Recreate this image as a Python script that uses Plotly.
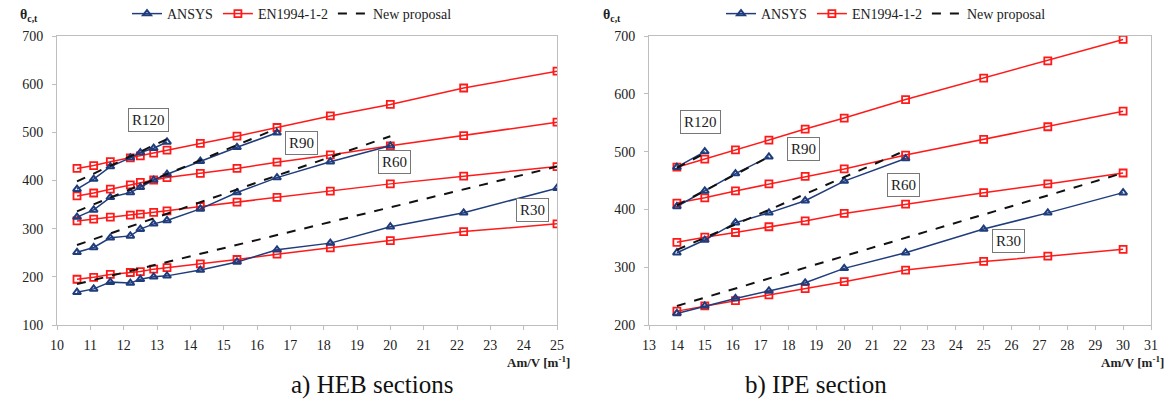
import plotly.graph_objects as go

# ---------------- data ----------------
heb_x = [10.6, 11.1, 11.6, 12.2, 12.5, 12.9, 13.3, 14.3, 15.4, 16.6, 18.2, 20.0, 22.2, 25.0]
heb_en = {
    "R120": [425, 431, 439, 447, 451, 457, 463, 477, 492, 510, 534, 558, 592, 627],
    "R90": [368, 374, 382, 391, 396, 401, 406, 415, 425, 438, 453, 472, 493, 521],
    "R60": [316, 320, 324, 328, 330, 334, 337, 346, 355, 365, 378, 393, 409, 429],
    "R30": [195, 199, 205, 209, 211, 216, 219, 227, 236, 247, 260, 275, 294, 310],
}
heb_ansys = {
    "R120": [382, 403, 429, 447, 458, 467, 480],
    "R90": [324, 339, 365, 375, 386, 401, 413, 440, 469, 499],
    "R60": [251, 261, 281, 285, 299, 310, 317, 341, 375, 406, 439, 472],
    "R30": [168, 175, 189, 187, 195, 200, 202, 214, 231, 256, 270, 304, 333, 384],
}
heb_new_x = {"R120": [10.6, 13.3], "R90": [10.6, 16.6], "R60": [10.6, 20.0], "R30": [10.6, 25.0]}
heb_new_y = {"R120": [398, 486], "R90": [336, 508], "R60": [266, 492], "R30": [185, 429]}
heb_label_pos = {"R120": (12.73, 526), "R90": (17.32, 478), "R60": (20.13, 439), "R30": (24.25, 339)}

ipe_x = [14.0, 15.0, 16.1, 17.3, 18.6, 20.0, 22.2, 25.0, 27.3, 30.0]
ipe_en = {
    "R120": [473, 487, 503, 520, 539, 558, 590, 627, 657, 694],
    "R90": [411, 420, 432, 444, 457, 470, 494, 521, 543, 570],
    "R60": [343, 352, 360, 370, 380, 393, 409, 429, 444, 463],
    "R30": [224, 233, 242, 252, 263, 275, 295, 310, 319, 331],
}
ipe_ansys = {
    "R120": [473, 500],
    "R90": [405, 432, 462, 491],
    "R60": [325, 347, 377, 394, 415, 449, 488],
    "R30": [220, 233, 246, 259, 273, 298, 325, 366, 394, 429],
}
ipe_new_x = {"R120": [14.0, 15.0], "R90": [14.0, 17.3], "R60": [14.0, 22.2], "R30": [14.0, 30.0]}
ipe_new_y = {"R120": [472, 497], "R90": [407, 491], "R60": [330, 502], "R30": [233, 463]}
ipe_label_pos = {"R120": (14.86, 551), "R90": (18.54, 504), "R60": (22.11, 443), "R30": (25.89, 345)}

# ---------------- styles ----------------
RED = "#FF1A1A"
NAVY = "#1F3C7C"
FONT = "Liberation Serif"
W, H = 1170, 401

fig = go.Figure()


def add_panel(xv, en, ansys, nx, ny, xa, ya, legend_name):
    first = True
    for k in ["R120", "R90", "R60", "R30"]:
        fig.add_trace(go.Scatter(
            x=xv, y=en[k], xaxis=xa, yaxis=ya, mode="lines+markers",
            line=dict(color=RED, width=1.5),
            marker=dict(symbol="square-open", size=7, color=RED, line=dict(width=1.8, color=RED)),
            name="EN1994-1-2", legend=legend_name, showlegend=first, legendrank=2))
        first = False
    first = True
    for k in ["R120", "R90", "R60", "R30"]:
        fig.add_trace(go.Scatter(
            x=xv[:len(ansys[k])], y=ansys[k], xaxis=xa, yaxis=ya, mode="lines+markers",
            line=dict(color=NAVY, width=1.5),
            marker=dict(symbol="triangle-up-open", size=7, color=NAVY, line=dict(width=2, color=NAVY)),
            name="ANSYS", legend=legend_name, showlegend=first, legendrank=1))
        first = False
    first = True
    for k in ["R120", "R90", "R60", "R30"]:
        fig.add_trace(go.Scatter(
            x=nx[k], y=ny[k], xaxis=xa, yaxis=ya, mode="lines",
            line=dict(color="#111111", width=2, dash="dash"),
            name="New proposal", legend=legend_name, showlegend=first, legendrank=3))
        first = False


add_panel(heb_x, heb_en, heb_ansys, heb_new_x, heb_new_y, "x", "y", "legend")
add_panel(ipe_x, ipe_en, ipe_ansys, ipe_new_x, ipe_new_y, "x2", "y2", "legend2")

ydom = [1 - 325 / H, 1 - 36 / H]
axis_common = dict(
    showline=True, linecolor="#BEBEBE", linewidth=1, mirror=True, showgrid=False,
    zeroline=False, ticks="outside", ticklen=4, tickcolor="#BEBEBE",
    tickfont=dict(family=FONT, size=14, color="#222"),
)

fig.update_layout(
    width=W, height=H,
    font=dict(family=FONT, color="#222"),
    margin=dict(l=0, r=0, t=0, b=0, autoexpand=False),
    paper_bgcolor="white", plot_bgcolor="white",
    xaxis=dict(domain=[57 / W, 557 / W], range=[10, 25], dtick=1, anchor="y", ticklabelstandoff=3, **axis_common),
    yaxis=dict(domain=ydom, range=[100, 700], dtick=100, anchor="x", ticklabelstandoff=6, **axis_common),
    xaxis2=dict(domain=[649 / W, 1151 / W], range=[13, 31], dtick=1, anchor="y2", ticklabelstandoff=3, **axis_common),
    yaxis2=dict(domain=ydom, range=[200, 700], dtick=100, anchor="x2", ticklabelstandoff=6, **axis_common),
    legend=dict(orientation="h", x=292 / W, y=1 - 14 / H, xanchor="center", yanchor="middle",
                font=dict(family=FONT, size=14, color="#222"), itemwidth=30,
                bgcolor="rgba(0,0,0,0)", traceorder="normal"),
    legend2=dict(orientation="h", x=886 / W, y=1 - 14 / H, xanchor="center", yanchor="middle",
                 font=dict(family=FONT, size=14, color="#222"), itemwidth=30,
                 bgcolor="rgba(0,0,0,0)", traceorder="normal"),
    showlegend=True,
)

annotations = []
for lp, xa, ya in [(heb_label_pos, "x", "y"), (ipe_label_pos, "x2", "y2")]:
    for k, (lx, ly) in lp.items():
        annotations.append(dict(
            x=lx, y=ly, xref=xa, yref=ya, text=k, showarrow=False,
            font=dict(family=FONT, size=15, color="#222"),
            bordercolor="#777", borderwidth=1, borderpad=3, bgcolor="white"))

for xc in [18 / W, 612 / W]:
    annotations.append(dict(
        x=xc, y=1 - 5 / H, xref="paper", yref="paper", showarrow=False, yanchor="top",
        text="<b>θ<sub>c,t</sub></b>", font=dict(family=FONT, size=14, color="#222")))

for xr in [572 / W, 1166 / W]:
    annotations.append(dict(
        x=xr, y=1 - 362 / H, xref="paper", yref="paper", showarrow=False, xanchor="right",
        yanchor="middle",
        text="<b>Am/V [m<sup>-1</sup>]</b>", font=dict(family=FONT, size=13, color="#222")))

annotations.append(dict(x=289 / W, y=1 - 385 / H, xref="paper", yref="paper", showarrow=False,
                        yanchor="middle",
                        text="a) HEB sections", font=dict(family=FONT, size=25, color="#111")))
annotations.append(dict(x=889 / W, y=1 - 385 / H, xref="paper", yref="paper", showarrow=False,
                        yanchor="middle",
                        text="b) IPE section", font=dict(family=FONT, size=25, color="#111")))

fig.update_layout(annotations=annotations)

fig.write_html("out.html")
